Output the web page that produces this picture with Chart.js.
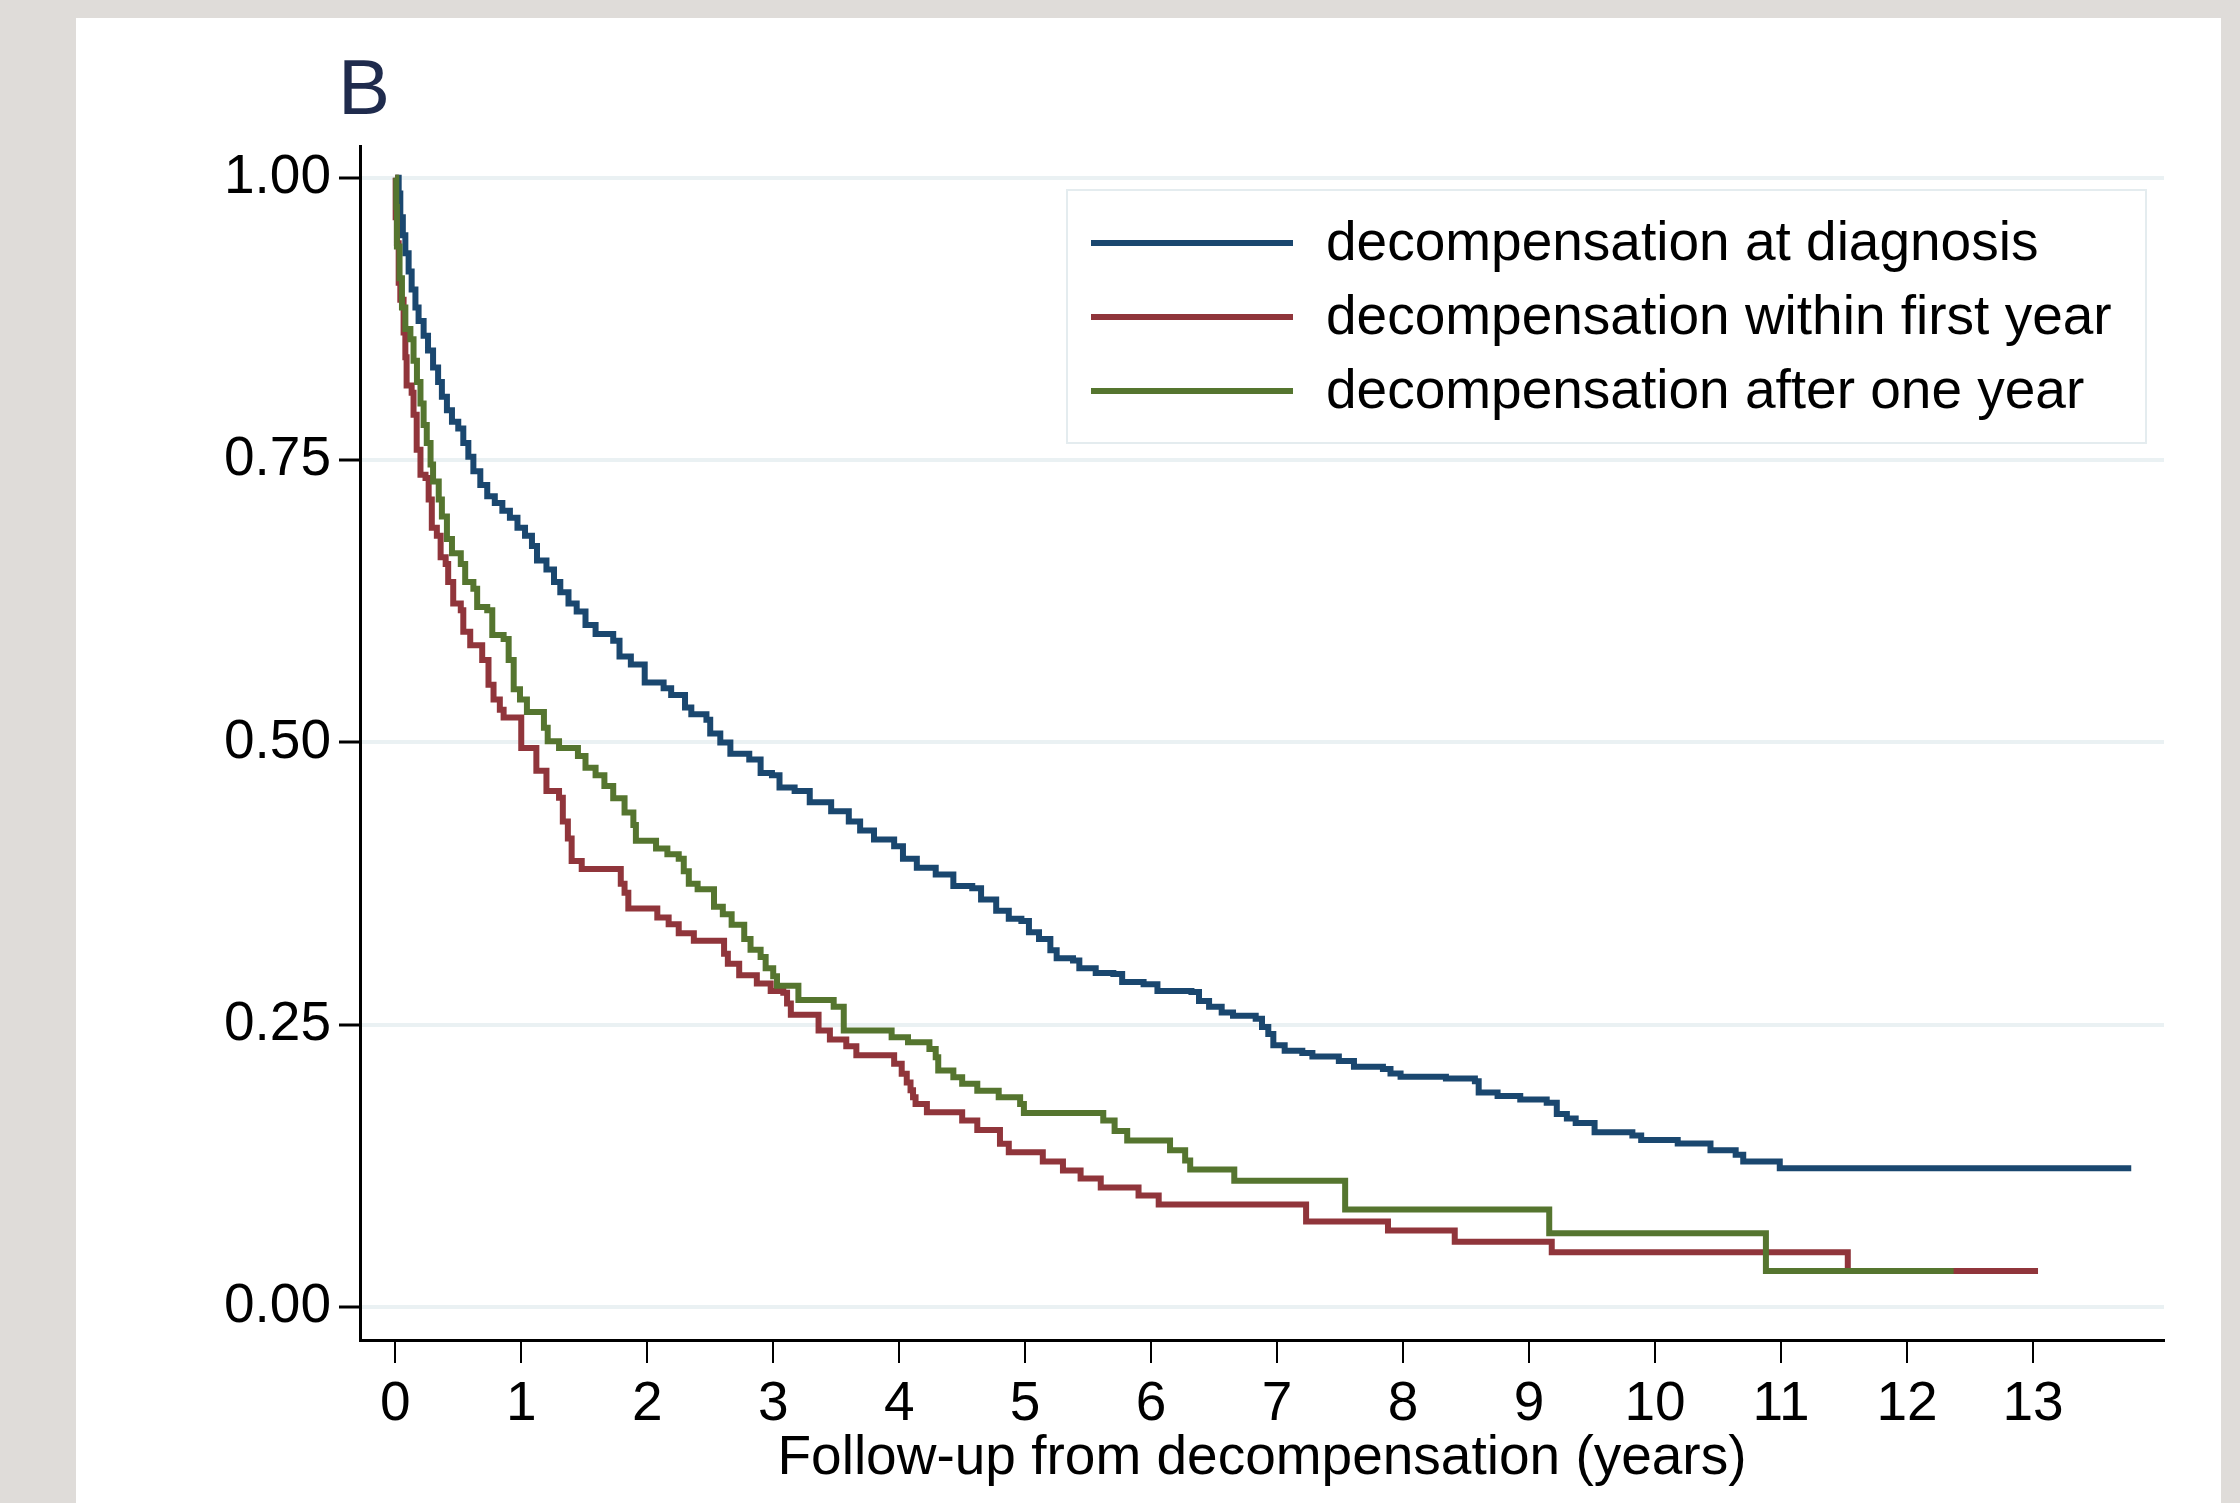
<!DOCTYPE html>
<html>
<head>
<meta charset="utf-8">
<title>Survival after decompensation</title>
<script src="https://cdn.jsdelivr.net/npm/chart.js@4.4.1/dist/chart.umd.min.js"></script>
<style>
    html, body { margin: 0; padding: 0; background: #dfdcd9; }
    canvas { display: block; }
</style>
</head>
<body>
<canvas id="kmChart" width="2240" height="1503"></canvas>
<script>
// Kaplan-Meier estimates: time of each drop (years) and survival after it

const diagnosisTime = [0, 0.027, 0.04, 0.06, 0.08, 0.106, 0.13, 0.16, 0.185, 0.225, 0.26, 0.30, 0.34, 0.37, 0.41, 0.45, 0.50, 0.54, 0.58, 0.62,
    0.675, 0.73, 0.79, 0.85, 0.91, 0.97, 1.03, 1.085, 1.125, 1.20, 1.26, 1.31, 1.375, 1.44, 1.51, 1.59, 1.73, 1.78, 1.87, 1.98,
    2.13, 2.19, 2.30, 2.35, 2.47, 2.50, 2.58, 2.66, 2.81, 2.90, 2.99, 3.05, 3.17, 3.29, 3.46, 3.60, 3.69, 3.80, 3.96, 4.03,
    4.14, 4.29, 4.43, 4.58, 4.65, 4.77, 4.87, 4.97, 5.03, 5.11, 5.20, 5.25, 5.38, 5.43, 5.56, 5.70, 5.77, 5.94, 6.05, 6.32,
    6.38, 6.46, 6.56, 6.65, 6.83, 6.88, 6.93, 6.97, 7.06, 7.20, 7.28, 7.49, 7.61, 7.84, 7.90, 7.98, 8.34, 8.57, 8.60, 8.75,
    8.93, 9.14, 9.22, 9.30, 9.37, 9.52, 9.82, 9.89, 10.18, 10.44, 10.64, 10.70, 10.99, 13.78];
const diagnosisSurv = [1.00, 0.986, 0.965, 0.949, 0.933, 0.917, 0.901, 0.885, 0.873, 0.860, 0.847, 0.832, 0.819, 0.806, 0.794, 0.784, 0.778, 0.765, 0.753, 0.740,
    0.728, 0.718, 0.712, 0.705, 0.699, 0.690, 0.683, 0.674, 0.661, 0.653, 0.642, 0.633, 0.623, 0.616, 0.604, 0.596, 0.590, 0.576, 0.569, 0.553,
    0.548, 0.542, 0.531, 0.525, 0.520, 0.508, 0.500, 0.490, 0.485, 0.473, 0.471, 0.460, 0.457, 0.447, 0.439, 0.430, 0.422, 0.414, 0.408, 0.397,
    0.389, 0.383, 0.373, 0.371, 0.361, 0.351, 0.344, 0.342, 0.332, 0.326, 0.316, 0.309, 0.307, 0.300, 0.296, 0.295, 0.288, 0.286, 0.280, 0.279,
    0.271, 0.266, 0.261, 0.258, 0.2555, 0.248, 0.242, 0.232, 0.227, 0.225, 0.222, 0.218, 0.213, 0.211, 0.207, 0.204, 0.2025, 0.200, 0.190, 0.187,
    0.184, 0.181, 0.171, 0.167, 0.163, 0.155, 0.152, 0.148, 0.145, 0.139, 0.135, 0.129, 0.123, 0.123];

const firstYearTime = [0, 0.003, 0.013, 0.027, 0.04, 0.066, 0.08, 0.09, 0.13, 0.145, 0.17, 0.20, 0.24, 0.265, 0.29, 0.33, 0.36, 0.40, 0.42, 0.46,
    0.52, 0.54, 0.595, 0.69, 0.74, 0.78, 0.83, 0.86, 1.00, 1.12, 1.20, 1.30, 1.33, 1.37, 1.40, 1.48, 1.79, 1.82, 1.85, 2.08,
    2.17, 2.25, 2.37, 2.61, 2.64, 2.73, 2.87, 2.98, 3.08, 3.11, 3.14, 3.36, 3.45, 3.58, 3.66, 3.96, 4.02, 4.06, 4.09, 4.11,
    4.13, 4.22, 4.50, 4.62, 4.80, 4.87, 5.14, 5.30, 5.44, 5.60, 5.90, 6.06, 7.23, 7.88, 8.41, 9.18, 11.53, 13.04];
const firstYearSurv = [1.00, 0.965, 0.942, 0.907, 0.892, 0.863, 0.841, 0.816, 0.8095, 0.790, 0.759, 0.737, 0.734, 0.715, 0.690, 0.683, 0.664, 0.658, 0.642, 0.623,
    0.617, 0.598, 0.586, 0.573, 0.551, 0.538, 0.529, 0.522, 0.495, 0.475, 0.457, 0.451, 0.430, 0.415, 0.395, 0.388, 0.375, 0.367, 0.353, 0.345,
    0.339, 0.331, 0.3245, 0.313, 0.304, 0.294, 0.2865, 0.280, 0.2785, 0.269, 0.259, 0.245, 0.237, 0.231, 0.223, 0.2155, 0.2066, 0.199, 0.192, 0.186,
    0.180, 0.1727, 0.1653, 0.157, 0.1447, 0.1373, 0.129, 0.121, 0.114, 0.106, 0.099, 0.091, 0.076, 0.068, 0.058, 0.0486, 0.032, 0.032];

const afterYearTime = [0, 0.008, 0.013, 0.034, 0.053, 0.08, 0.12, 0.145, 0.172, 0.20, 0.225, 0.25, 0.28, 0.30, 0.345, 0.37, 0.41, 0.45, 0.52, 0.555,
    0.62, 0.65, 0.73, 0.77, 0.86, 0.90, 0.94, 0.99, 1.045, 1.18, 1.21, 1.30, 1.45, 1.51, 1.59, 1.66, 1.73, 1.82, 1.89, 1.91,
    2.07, 2.16, 2.25, 2.29, 2.33, 2.40, 2.53, 2.60, 2.67, 2.77, 2.82, 2.90, 2.94, 3.00, 3.03, 3.20, 3.48, 3.56, 3.94, 4.07,
    4.24, 4.29, 4.31, 4.43, 4.50, 4.62, 4.79, 4.96, 4.99, 5.62, 5.71, 5.81, 6.15, 6.27, 6.31, 6.66, 7.54, 9.16, 10.88, 12.37];
const afterYearSurv = [1.00, 0.974, 0.939, 0.911, 0.885, 0.866, 0.857, 0.838, 0.819, 0.800, 0.781, 0.765, 0.746, 0.731, 0.715, 0.700, 0.680, 0.6675, 0.658, 0.642,
    0.636, 0.620, 0.617, 0.595, 0.5915, 0.573, 0.547, 0.538, 0.527, 0.513, 0.501, 0.495, 0.488, 0.4775, 0.471, 0.4615, 0.4505, 0.438, 0.427, 0.413,
    0.406, 0.401, 0.397, 0.386, 0.375, 0.370, 0.3545, 0.348, 0.3386, 0.326, 0.3165, 0.310, 0.300, 0.293, 0.2847, 0.272, 0.266, 0.245, 0.239, 0.2346,
    0.2287, 0.2213, 0.2095, 0.2036, 0.1978, 0.1916, 0.186, 0.180, 0.172, 0.1653, 0.156, 0.1476, 0.139, 0.130, 0.122, 0.112, 0.0866, 0.0655, 0.032, 0.032];

const seriesLabels = ['decompensation at diagnosis', 'decompensation within first year', 'decompensation after one year'];
const seriesColors = ['#1a476f', '#90353b', '#55752f'];

const xTicks = [0, 1, 2, 3, 4, 5, 6, 7, 8, 9, 10, 11, 12, 13];
const yTicks = [0, 0.25, 0.5, 0.75, 1];

const FONT = "'Liberation Sans', Arial, Helvetica, sans-serif";

function toPoints(times, surv) {
    return times.map((t, i) => ({ x: t, y: surv[i] }));
}

// grey page, white panel, the "B" tag and the framed legend
const decorPlugin = {
    id: 'decor',
    beforeDraw(chart) {
        const ctx = chart.ctx;
        ctx.save();
        ctx.fillStyle = '#dfdcd9';
        ctx.fillRect(0, 0, chart.width, chart.height);
        ctx.fillStyle = '#ffffff';
        ctx.fillRect(76, 18, 2145, chart.height - 18);
        ctx.restore();
    },
    afterDatasetsDraw(chart) {
        const ctx = chart.ctx;
        ctx.save();

        ctx.fillStyle = '#1f2b4d';
        ctx.font = '78px ' + FONT;
        ctx.textBaseline = 'alphabetic';
        ctx.fillText('B', 338, 114);

        ctx.fillStyle = '#ffffff';
        ctx.fillRect(1067, 190, 1079, 253);
        ctx.strokeStyle = '#e4ecef';
        ctx.lineWidth = 2;
        ctx.strokeRect(1067, 190, 1079, 253);

        ctx.font = '55px ' + FONT;
        ctx.textBaseline = 'middle';
        seriesLabels.forEach((label, i) => {
            const y = 243 + i * 74;
            ctx.strokeStyle = seriesColors[i];
            ctx.lineWidth = 6;
            ctx.beginPath();
            ctx.moveTo(1091, y);
            ctx.lineTo(1293, y);
            ctx.stroke();
            ctx.fillStyle = '#000';
            ctx.fillText(label, 1326, y + 2);
        });
        ctx.restore();
    }
};

const lineSet = (idx, times, surv, order) => ({
    label: seriesLabels[idx],
    data: toPoints(times, surv),
    borderColor: seriesColors[idx],
    borderWidth: 6,
    pointRadius: 0,
    stepped: 'before',
    fill: false,
    order: order
});

new Chart(document.getElementById('kmChart').getContext('2d'), {
    type: 'line',
    data: {
        datasets: [
            lineSet(0, diagnosisTime, diagnosisSurv, 2),
            lineSet(1, firstYearTime, firstYearSurv, 1),
            lineSet(2, afterYearTime, afterYearSurv, 0)
        ]
    },
    options: {
        responsive: false,
        devicePixelRatio: 1,
        animation: false,
        layout: { padding: { left: 0, top: 146, right: 76, bottom: 0 } },
        plugins: {
            legend: { display: false },
            tooltip: { enabled: false }
        },
        scales: {
            x: {
                type: 'linear',
                min: -0.28,
                max: 14.04,
                afterBuildTicks: axis => { axis.ticks = xTicks.map(v => ({ value: v })); },
                afterFit: axis => { axis.height = 163; },
                grid: { drawOnChartArea: false, color: '#000', lineWidth: 2, tickLength: 23 },
                border: { color: '#000', width: 3 },
                ticks: {
                    color: '#000',
                    font: { family: FONT, size: 55 },
                    padding: 9,
                    maxRotation: 0,
                    autoSkip: false,
                    callback: v => String(v)
                },
                title: {
                    display: true,
                    text: 'Follow-up from decompensation (years)',
                    color: '#000',
                    font: { family: FONT, size: 55 },
                    padding: { top: 0, bottom: 11 }
                }
            },
            y: {
                type: 'linear',
                min: -0.029,
                max: 1.028,
                afterBuildTicks: axis => { axis.ticks = yTicks.map(v => ({ value: v })); },
                afterFit: axis => { axis.width = 360; },
                grid: { color: '#eaf1f3', lineWidth: 4, tickColor: '#000', tickWidth: 3, tickLength: 21 },
                border: { color: '#000', width: 3 },
                ticks: {
                    color: '#000',
                    font: { family: FONT, size: 55 },
                    padding: 8,
                    callback: v => v.toFixed(2)
                }
            }
        }
    },
    plugins: [decorPlugin]
});
</script>
</body>
</html>
